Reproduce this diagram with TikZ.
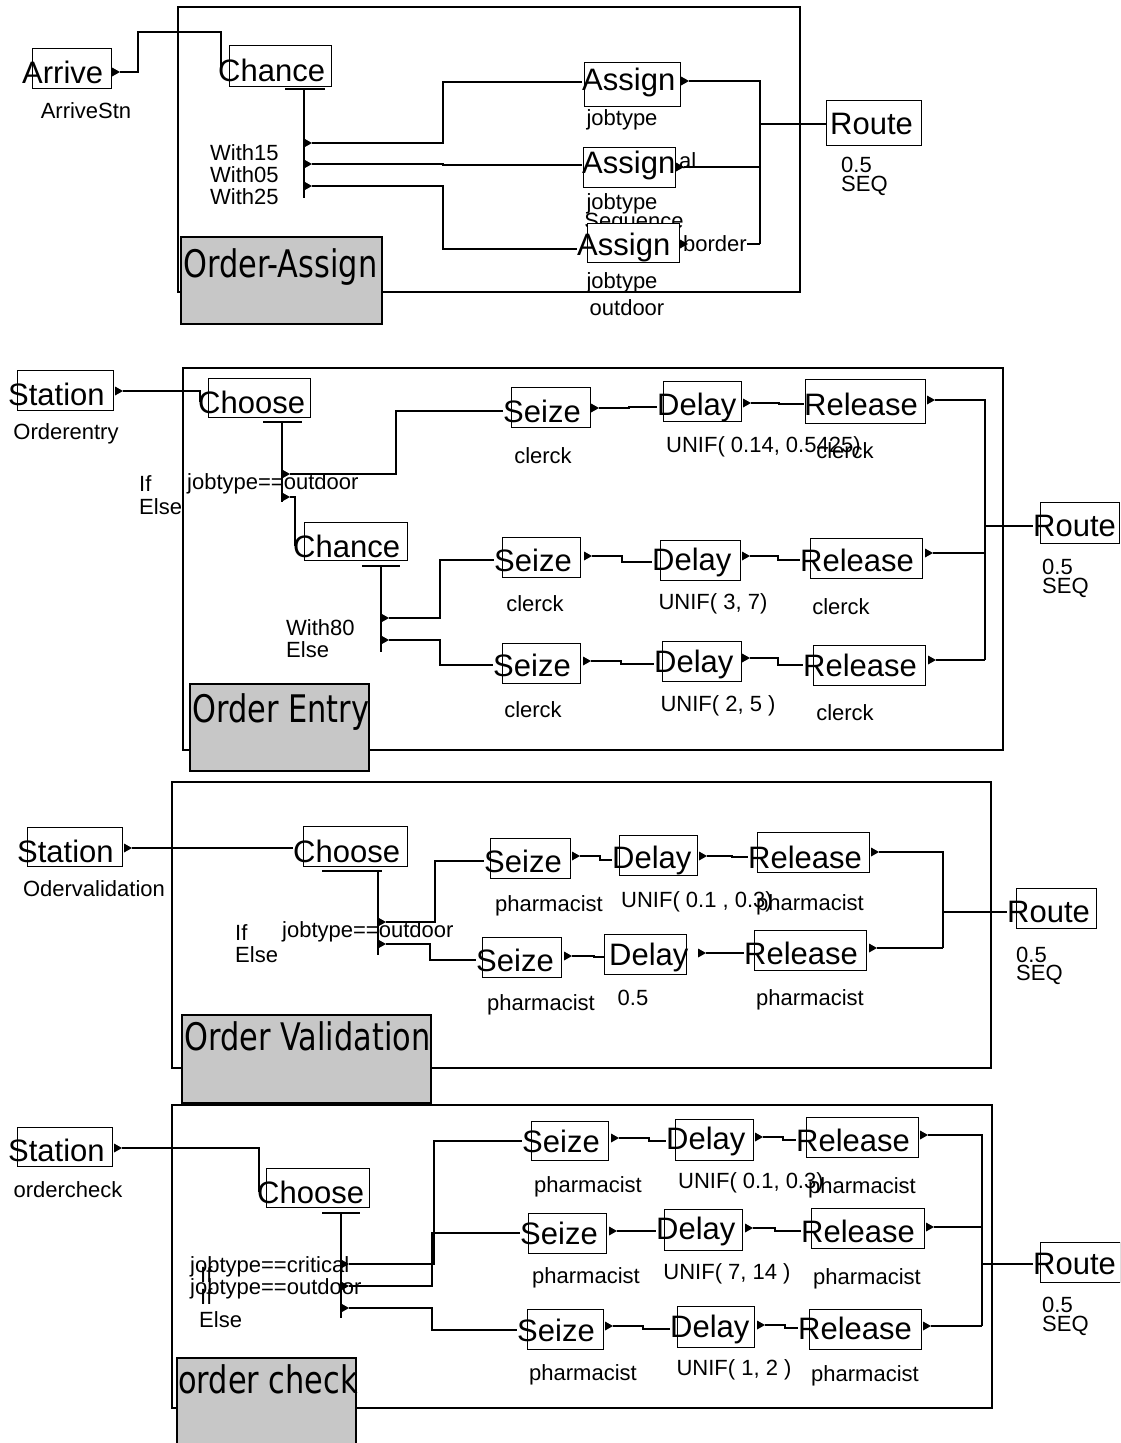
\documentclass[tikz,border=0pt]{standalone}
\usepackage{fontspec}
\setmainfont{Liberation Sans}
\newfontfamily\titlefont[FakeStretch=0.8]{DejaVu Sans}
\usetikzlibrary{calc}
\pgfdeclarelayer{bg}
\pgfsetlayers{bg,main}

\tikzset{
  blk/.style={font=\fontsize{31}{31}\selectfont, inner sep=0pt, anchor=west},
  lbl/.style={font=\fontsize{22}{22}\selectfont, inner sep=0pt},
  lbll/.style={lbl, anchor=west},
  bx/.style={draw, line width=0.8pt, fill=white},
  conn/.style={line width=1.2pt},
  frame/.style={draw, line width=2.2pt},
  titlebox/.style={draw, line width=2pt, fill=black!22},
  ttl/.style={font=\titlefont\fontsize{38}{38}\selectfont, inner sep=0pt, anchor=base west},
  exitmark/.pic={\fill (0,-4.5) -- (8,0) -- (0,4.5) -- cycle;},
}

% block: name, text, text-left x, text y, box corners
\newcommand\simblk[8]{%
  \draw[bx] (#5,#6) rectangle (#7,#8);
  \node[blk] (#1) at (#3,#4) {#2};}
% exit marker with a named coordinate at its tip
\newcommand\exitpt[3]{%
  \pic at (#2,#3) {exitmark};
  \coordinate (#1) at ({#2+8},{#3});}

\begin{document}
\begin{tikzpicture}[x=1pt,y=-1pt]
\clip (0,0) rectangle (1120,1443);
\begin{pgfonlayer}{bg}
  \fill[white] (0,0) rectangle (1120,1443);
\end{pgfonlayer}

% ================= Order-Assign =================
\simblk{arrive}{Arrive}{22}{72}{32}{48}{111}{88}
\simblk{chanceA}{Chance}{218}{70}{229}{45}{331}{86}
\simblk{asgA}{Assign}{582}{82}{584}{62}{680}{106}
\simblk{asgB}{Assign}{582}{165}{583}{147}{675}{187}
\simblk{asgC}{Assign}{577}{247}{587}{223}{679}{262}
\simblk{routeA}{Route}{830}{124}{826}{100}{921}{145}
\exitpt{arriveX}{112}{72}
\exitpt{asgAX}{681}{81}
\exitpt{asgBX}{676}{167}
\exitpt{asgCX}{680}{244}
\exitpt{cA1}{304}{143}
\exitpt{cA2}{304}{164}
\exitpt{cA3}{304}{186}

\begin{pgfonlayer}{bg}
  \draw[frame] (178,7) rectangle (800,292);
  \node[lbl] (arrstn) at (86,111) {ArriveStn};
  \node[lbll] (w15) at (210,153) {With15};
  \node[lbll] (w05) at (210,175) {With05};
  \node[lbll] (w25) at (210,197) {With25};
  \node[lbl] (jtA) at (622,120) {jobtype};
  \node[lbll] (alB) at (679,161) {al};
  \node[lbl] (jtB) at (622,204) {jobtype};
  \node[lbl, anchor=base] (seqB) at (634,228) {Sequence};
  \node[lbl] (jtC) at (622,283) {jobtype};
  \node[lbl] (outC) at (627,308) {outdoor};
  \node[lbll] (bord) at (683,244) {border};
  \node[lbll] (rA1) at (841,165) {0.5};
  \node[lbll] (rA2) at (841,186) {SEQ};
  \draw[conn] (285,89) -- (325,89);
  \draw[conn] (304,89) -- (304,198);
  \draw[conn] (arriveX) -- (138,72) |- (221,32) -- ([xshift=3pt]chanceA.west);
  \draw[conn] (cA1) -- (443,143) |- (asgA.west);
  \draw[conn] (cA2) -- (443,164) |- (asgB.west);
  \draw[conn] (cA3) -- (443,186) |- ([yshift=-2pt]asgC.west);
  \draw[conn] (asgAX) -| (760,244);
  \draw[conn] (asgBX) -- (760,167);
  \draw[conn] (bord.east) -- (760,244);
  \draw[conn] (760,124) -- (routeA.west);
\end{pgfonlayer}
\draw[titlebox] (181,237) rectangle (382,324);
\node[ttl] (tA) at (183,277) {Order-Assign};

% ================= Order Entry =================
\simblk{stB}{Station}{8}{394}{17}{370}{113}{410}
\simblk{chB}{Choose}{198}{402}{208}{378}{310}{417}
\simblk{cnB}{Chance}{293}{546}{304}{522}{407}{560}
\simblk{szB1}{Seize}{503}{411}{511}{387}{590}{427}
\simblk{dlB1}{Delay}{657}{407}{663}{381}{741}{421}
\simblk{rlB1}{Release}{804}{404}{805}{379}{925}{423}
\simblk{szB2}{Seize}{494}{560}{502}{537}{580}{577}
\simblk{dlB2}{Delay}{652}{562}{660}{540}{740}{580}
\simblk{rlB2}{Release}{800}{560}{810}{538}{922}{578}
\simblk{szB3}{Seize}{493}{665}{502}{643}{580}{683}
\simblk{dlB3}{Delay}{654}{664}{662}{641}{741}{681}
\simblk{rlB3}{Release}{803}{665}{813}{645}{925}{685}
\simblk{rtB}{Route}{1033}{526}{1040}{502}{1119}{543}
\exitpt{stBX}{115}{391}
\exitpt{chB1}{282}{474}
\exitpt{chB2}{282}{497}
\exitpt{cnB1}{381}{618}
\exitpt{cnB2}{381}{640}
\exitpt{szB1X}{591}{408}
\exitpt{dlB1X}{743}{403}
\exitpt{rlB1X}{927}{400}
\exitpt{szB2X}{584}{556}
\exitpt{dlB2X}{742}{556}
\exitpt{rlB2X}{925}{553}
\exitpt{szB3X}{583}{661}
\exitpt{dlB3X}{742}{658}
\exitpt{rlB3X}{928}{660}

\begin{pgfonlayer}{bg}
  \draw[frame] (183,368) rectangle (1003,750);
  \node[lbl] (oe) at (66,434) {Orderentry};
  \node[lbll] (ifB) at (139,484) {If};
  \node[lbll] (elB) at (139,507) {Else};
  \node[lbll] (jtoB) at (187,484) {jobtype==outdoor};
  \node[lbll] (w80) at (286,628) {With80};
  \node[lbll] (elB2) at (286,650) {Else};
  \node[lbl] (cB1) at (543,456) {clerck};
  \node[lbll] (uB1) at (666,447) {UNIF( 0.14, 0.5425)};
  \node[lbl] (cB2) at (845,451) {clerck};
  \node[lbl] (cB3) at (535,604) {clerck};
  \node[lbl] (uB2) at (713,604) {UNIF( 3, 7)};
  \node[lbl] (cB4) at (841,607) {clerck};
  \node[lbl] (cB5) at (533,710) {clerck};
  \node[lbl] (uB3) at (718,706) {UNIF( 2, 5 )};
  \node[lbl] (cB6) at (845,713) {clerck};
  \node[lbll] (rB1) at (1042,567) {0.5};
  \node[lbll] (rB2) at (1042,588) {SEQ};
  \draw[conn] (263,422) -- (302,422);
  \draw[conn] (282,422) -- (282,502);
  \draw[conn] (362,566) -- (400,566);
  \draw[conn] (381,566) -- (381,652);
  \draw[conn] (stBX) -| ([xshift=2pt]chB.west);
  \draw[conn] (chB1) -- (396,474) |- (szB1.west);
  \draw[conn] (chB2) -| ([xshift=2pt]cnB.west);
  \draw[conn] (cnB1) -- (440,618) |- (szB2.west);
  \draw[conn] (cnB2) -- (440,640) |- (szB3.west);
  \draw[conn] (szB1X) -- ++(30,0) |- (dlB1.west);
  \draw[conn] (dlB1X) -- ++(28,0) |- (rlB1.west);
  \draw[conn] (szB2X) -- ++(30,0) |- (dlB2.west);
  \draw[conn] (dlB2X) -- ++(28,0) |- (rlB2.west);
  \draw[conn] (szB3X) -- ++(30,0) |- (dlB3.west);
  \draw[conn] (dlB3X) -- ++(28,0) |- (rlB3.west);
  \draw[conn] (rlB1X) -| (985,660);
  \draw[conn] (rlB2X) -- (985,553);
  \draw[conn] (rlB3X) -- (985,660);
  \draw[conn] (985,526) -- (rtB.west);
\end{pgfonlayer}
\draw[titlebox] (190,684) rectangle (369,771);
\node[ttl] (tB) at (192,722) {Order Entry};

% ================= Order Validation =================
\simblk{stC}{Station}{17}{851}{27}{827}{122}{866}
\simblk{chC}{Choose}{293}{851}{303}{826}{407}{866}
\simblk{szC1}{Seize}{484}{861}{490}{838}{570}{878}
\simblk{dlC1}{Delay}{612}{860}{619}{835}{697}{875}
\simblk{rlC1}{Release}{748}{857}{757}{832}{869}{872}
\simblk{szC2}{Seize}{476}{960}{482}{937}{561}{977}
\simblk{dlC2}{Delay}{609}{957}{604}{934}{686}{974}
\simblk{rlC2}{Release}{744}{953}{754}{930}{866}{970}
\simblk{rtC}{Route}{1007}{912}{1016}{888}{1096}{928}
\exitpt{stCX}{124}{848}
\exitpt{chC1}{378}{922}
\exitpt{chC2}{378}{944}
\exitpt{szC1X}{572}{856}
\exitpt{dlC1X}{699}{856}
\exitpt{rlC1X}{871}{852}
\exitpt{szC2X}{564}{956}
\exitpt{dlC2X}{698}{953}
\exitpt{rlC2X}{869}{948}

\begin{pgfonlayer}{bg}
  \draw[frame] (172,782) rectangle (991,1068);
  \node[lbl] (ov) at (94,889) {Odervalidation};
  \node[lbll] (ifC) at (235,933) {If};
  \node[lbll] (elC) at (235,955) {Else};
  \node[lbll] (jtoC) at (282,932) {jobtype==outdoor};
  \node[lbl] (pC1) at (549,906) {pharmacist};
  \node[lbll] (uC1) at (621,902) {UNIF( 0.1 , 0.3)};
  \node[lbl] (pC2) at (810,905) {pharmacist};
  \node[lbl] (pC3) at (541,1005) {pharmacist};
  \node[lbl] (uC2) at (633,998) {0.5};
  \node[lbl] (pC4) at (810,1000) {pharmacist};
  \node[lbll] (rC1) at (1016,955) {0.5};
  \node[lbll] (rC2) at (1016,975) {SEQ};
  \draw[conn] (322,871) -- (382,871);
  \draw[conn] (378,871) -- (378,955);
  \draw[conn] (stCX) -- (stCX -| chC.west);
  \draw[conn] (chC1) -- (435,922) |- (szC1.west);
  \draw[conn] (chC2) -- (430,944) |- (szC2.west);
  \draw[conn] (szC1X) -- ++(20,0) |- (dlC1.west);
  \draw[conn] (dlC1X) -- ++(25,0) |- (rlC1.west);
  \draw[conn] (szC2X) -- ++(22,0) |- (dlC2.west);
  \draw[conn] (dlC2X) -- ++(25,0) |- (rlC2.west);
  \draw[conn] (rlC1X) -| (943,948);
  \draw[conn] (rlC2X) -- (943,948);
  \draw[conn] (943,912) -- (rtC.west);
\end{pgfonlayer}
\draw[titlebox] (182,1015) rectangle (431,1103);
\node[ttl] (tC) at (184,1050) {Order Validation};

% ================= order check =================
\simblk{stD}{Station}{8}{1150}{17}{1127}{112}{1166}
\simblk{chD}{Choose}{257}{1192}{266}{1168}{369}{1207}
\simblk{szD1}{Seize}{522}{1141}{531}{1121}{608}{1160}
\simblk{dlD1}{Delay}{666}{1141}{675}{1119}{753}{1160}
\simblk{rlD1}{Release}{796}{1140}{806}{1117}{918}{1157}
\simblk{szD2}{Seize}{520}{1233}{528}{1213}{606}{1253}
\simblk{dlD2}{Delay}{656}{1231}{664}{1209}{742}{1250}
\simblk{rlD2}{Release}{801}{1231}{811}{1208}{924}{1248}
\simblk{szD3}{Seize}{517}{1330}{527}{1309}{603}{1349}
\simblk{dlD3}{Delay}{670}{1329}{677}{1306}{754}{1347}
\simblk{rlD3}{Release}{798}{1328}{809}{1309}{921}{1349}
\simblk{rtD}{Route}{1033}{1264}{1040}{1242}{1120}{1282}
\exitpt{stDX}{114}{1148}
\exitpt{chD1}{341}{1264}
\exitpt{chD2}{341}{1286}
\exitpt{chD3}{341}{1308}
\exitpt{szD1X}{611}{1138}
\exitpt{dlD1X}{755}{1137}
\exitpt{rlD1X}{920}{1135}
\exitpt{szD2X}{609}{1231}
\exitpt{dlD2X}{745}{1228}
\exitpt{rlD2X}{926}{1227}
\exitpt{szD3X}{605}{1326}
\exitpt{dlD3X}{757}{1325}
\exitpt{rlD3X}{923}{1326}

\begin{pgfonlayer}{bg}
  \draw[frame] (172,1105) rectangle (992,1408);
  \node[lbl] (oc) at (68,1190) {ordercheck};
  \node[lbll] (jcD) at (190,1267) {jobtype==critical};
  \node[lbll] (joD) at (190,1289) {jobtype==outdoor};
  \node[lbll] (ifD1) at (200,1275) {If};
  \node[lbll] (ifD2) at (200,1297) {If};
  \node[lbll] (elD) at (199,1320) {Else};
  \node[lbl] (pD1) at (588,1187) {pharmacist};
  \node[lbll] (uD1) at (678,1183) {UNIF( 0.1, 0.3)};
  \node[lbl] (pD2) at (862,1188) {pharmacist};
  \node[lbl] (pD3) at (586,1278) {pharmacist};
  \node[lbl] (uD2) at (727,1274) {UNIF( 7, 14 )};
  \node[lbl] (pD4) at (867,1279) {pharmacist};
  \node[lbl] (pD5) at (583,1375) {pharmacist};
  \node[lbl] (uD3) at (734,1370) {UNIF( 1, 2 )};
  \node[lbl] (pD6) at (865,1376) {pharmacist};
  \node[lbll] (rD1) at (1042,1305) {0.5};
  \node[lbll] (rD2) at (1042,1326) {SEQ};
  \draw[conn] (322,1213) -- (360,1213);
  \draw[conn] (341,1213) -- (341,1318);
  \draw[conn] (stDX) -| ([xshift=2pt]chD.west);
  \draw[conn] (chD1) -- (434,1264) |- (szD1.west);
  \draw[conn] (chD2) -- (432,1286) |- (szD2.west);
  \draw[conn] (chD3) -- (432,1308) |- (szD3.west);
  \draw[conn] (szD1X) -- ++(30,0) |- (dlD1.west);
  \draw[conn] (dlD1X) -- ++(20,0) |- (rlD1.west);
  \draw[conn] (szD2X) -- ++(30,0) |- (dlD2.west);
  \draw[conn] (dlD2X) -- ++(22,0) |- (rlD2.west);
  \draw[conn] (szD3X) -- ++(30,0) |- (dlD3.west);
  \draw[conn] (dlD3X) -- ++(20,0) |- (rlD3.west);
  \draw[conn] (rlD1X) -| (982,1326);
  \draw[conn] (rlD2X) -- (982,1227);
  \draw[conn] (rlD3X) -- (982,1326);
  \draw[conn] (982,1264) -- (rtD.west);
\end{pgfonlayer}
\draw[titlebox] (177,1358) rectangle (356,1450);
\node[ttl] (tD) at (178,1393) {order check};

\end{tikzpicture}
\end{document}
